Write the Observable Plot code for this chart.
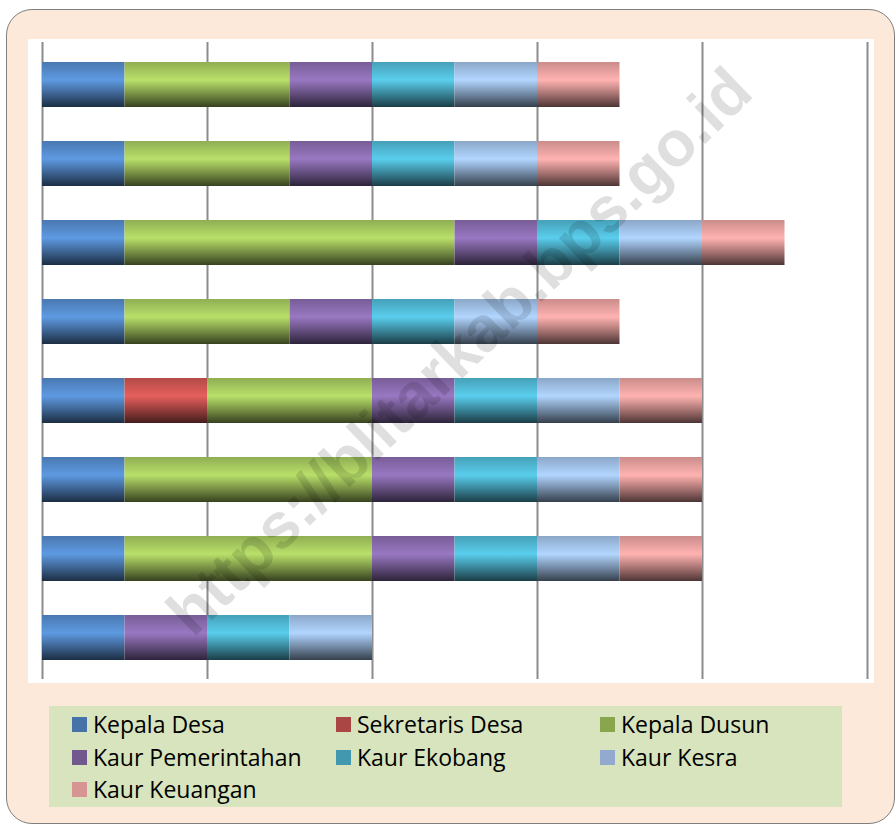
<!DOCTYPE html>
<html>
<head>
<meta charset="utf-8">
<script src="https://cdn.jsdelivr.net/npm/d3@7"></script>
<script src="https://cdn.jsdelivr.net/npm/@observablehq/plot@0.6"></script>
<style>
  body { margin: 0; background: #ffffff; }
  #frame { position: absolute; left: 6px; top: 9px; width: 889px; height: 815px; box-sizing: border-box;
           border: 1.5px solid #7f7f7f; border-radius: 26px; background: #fde9d9; }
  #plot { position: absolute; left: 28px; top: 39px; background: #ffffff; line-height: 0; }
  #legend { position: absolute; left: 49px; top: 706px; width: 793px; height: 101px; background: #d7e4bd;
            font-family: "Open Sans", sans-serif; font-size: 23px; color: #000000; }
  .item { position: absolute; display: flex; align-items: center; white-space: nowrap; height: 30px; line-height: 30px; }
  .sw { width: 15px; height: 15px; margin-right: 6px; flex: none; }
  #wm { position: absolute; left: 459px; top: 351px; transform: translate(-50%, -50%) rotate(-44deg);
        font-family: "Liberation Sans", Arial, sans-serif; font-weight: bold; font-size: 64px;
        color: rgba(0, 0, 0, 0.125); white-space: nowrap; pointer-events: none; }
</style>
</head>
<body>
<div id="frame"></div>
<div id="plot"></div>
<div id="legend"></div>
<div id="wm">https://blitarkab.bps.go.id</div>
<script>
// ---- data ----
const rows = ["Desa 1", "Desa 2", "Desa 3", "Desa 4", "Desa 5", "Desa 6", "Desa 7", "Desa 8"];
const series = ["Kepala Desa", "Sekretaris Desa", "Kepala Dusun", "Kaur Pemerintahan", "Kaur Ekobang", "Kaur Kesra", "Kaur Keuangan"];
const kepalaDesa       = [1, 1, 1, 1, 1, 1, 1, 1];
const sekretarisDesa   = [0, 0, 0, 0, 1, 0, 0, 0];
const kepalaDusun      = [2, 2, 4, 2, 2, 3, 3, 0];
const kaurPemerintahan = [1, 1, 1, 1, 1, 1, 1, 1];
const kaurEkobang      = [1, 1, 1, 1, 1, 1, 1, 1];
const kaurKesra        = [1, 1, 1, 1, 1, 1, 1, 1];
const kaurKeuangan     = [1, 1, 1, 1, 1, 1, 1, 0];
const xTicks = [0, 2, 4, 6, 8, 10];

// ---- styles ----
const barColors    = ["#4f81bd", "#c0504d", "#9bbb59", "#8064a2", "#4bacc6", "#95b3d7", "#d99694"];
const legendColors = ["#4572a7", "#aa4643", "#89a54e", "#71588f", "#4198af", "#93a9cf", "#d69593"];

const values = [kepalaDesa, sekretarisDesa, kepalaDusun, kaurPemerintahan, kaurEkobang, kaurKesra, kaurKeuangan];
const data = [];
rows.forEach((row, i) => {
  series.forEach((s, j) => {
    const v = values[j][i];
    if (v > 0) data.push({row, series: s, value: v});
  });
});

const gradIds = series.map((s, j) => "grad" + j);

const chart = Plot.plot({
  width: 846,
  height: 644,
  marginLeft: 14,
  marginRight: 7,
  marginTop: 3,
  marginBottom: 4,
  x: {domain: [0, 10], axis: null},
  y: {domain: rows, axis: null, paddingInner: 0.435, paddingOuter: 0.2175},
  color: {domain: series, range: gradIds.map(id => `url(#${id})`)},
  marks: [
    Plot.ruleX(xTicks, {stroke: "#8c8c8c", strokeWidth: 2}),
    Plot.barX(data, {y: "row", x: "value", fill: "series"})
  ]
});

// gradients (glossy Office-like shading)
const defs = d3.select(chart).insert("defs", ":first-child");
barColors.forEach((c, j) => {
  const base = d3.color(c);
  const g = defs.append("linearGradient").attr("id", gradIds[j])
    .attr("x1", 0).attr("y1", 0).attr("x2", 0).attr("y2", 1);
  const stops = [
    [0, base.darker(0.2)],
    [0.4, base.brighter(0.5)],
    [0.7, base.darker(0.7)],
    [1, base.darker(2.9)]
  ];
  stops.forEach(([o, col]) => g.append("stop").attr("offset", o).attr("stop-color", col.formatHex()));
});

document.getElementById("plot").appendChild(chart);

// ---- legend ----
const legend = document.getElementById("legend");
const colX = [23, 287, 551];
const rowTop = [3, 36, 68];
series.forEach((s, j) => {
  const item = document.createElement("div");
  item.className = "item";
  item.style.left = colX[j % 3] + "px";
  item.style.top = rowTop[Math.floor(j / 3)] + "px";
  const sw = document.createElement("span");
  sw.className = "sw";
  sw.style.background = legendColors[j];
  const label = document.createElement("span");
  label.textContent = s;
  item.appendChild(sw);
  item.appendChild(label);
  legend.appendChild(item);
});
</script>
</body>
</html>
